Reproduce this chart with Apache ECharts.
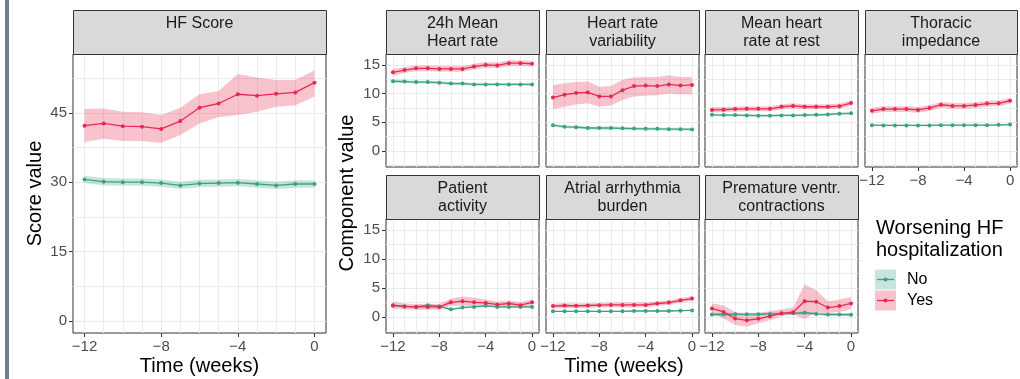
<!DOCTYPE html>
<html><head><meta charset="utf-8">
<script src="https://cdn.jsdelivr.net/npm/echarts@6/dist/echarts.min.js"></script>
<style>html,body{margin:0;padding:0;background:#fff;}#c{width:1020px;height:379px;}</style>
</head><body><div id="c"></div>
<script>
// ---------------- DATA ----------------
const weeks = [-12,-11,-10,-9,-8,-7,-6,-5,-4,-3,-2,-1,0];
const xTickLabels = [-12,-8,-4,0];
const hfTicks = [0,15,30,45];
const compTicks = [0,5,10,15];
const groups = ['No','Yes'];

// HF Score
const hfNo    = [30.6,30.1,30.0,30.0,29.8,29.3,29.7,29.8,29.9,29.6,29.3,29.6,29.6];
const hfNoLo  = [29.8,29.3,29.2,29.2,29.0,28.5,28.9,29.0,29.1,28.8,28.5,28.8,28.8];
const hfNoHi  = [31.4,30.9,30.8,30.8,30.6,30.1,30.5,30.6,30.7,30.4,30.1,30.4,30.4];
const hfYes   = [42.2,42.7,42.1,42.0,41.5,43.2,46.1,47.0,49.0,48.7,49.1,49.4,51.5];
const hfYesLo = [38.7,39.4,38.9,38.9,38.5,40.2,42.7,44.1,44.5,45.2,46.3,46.6,48.5];
const hfYesHi = [45.8,45.9,45.2,45.1,44.5,46.1,49.0,49.7,53.4,52.6,52.1,52.1,54.2];

// 24h Mean Heart rate
const mhrNo    = [12.15,12.1,12.0,12.0,11.9,11.75,11.75,11.6,11.6,11.6,11.6,11.6,11.6];
const mhrNoLo  = [11.9,11.85,11.75,11.75,11.65,11.5,11.5,11.35,11.35,11.35,11.35,11.35,11.35];
const mhrNoHi  = [12.4,12.35,12.25,12.25,12.15,12.0,12.0,11.85,11.85,11.85,11.85,11.85,11.85];
const mhrYes   = [13.7,14.1,14.4,14.4,14.3,14.3,14.3,14.7,15.0,14.9,15.3,15.3,15.2];
const mhrYesLo = [13.1,13.6,13.9,13.9,13.8,13.8,13.8,14.2,14.5,14.4,14.8,14.8,14.7];
const mhrYesHi = [14.3,14.6,14.9,14.9,14.8,14.8,14.8,15.2,15.5,15.4,15.8,15.8,15.7];

// Heart rate variability
const hrvNo    = [4.5,4.2,4.15,4.0,4.0,4.0,3.95,3.9,3.85,3.85,3.8,3.8,3.75];
const hrvNoLo  = [4.25,3.95,3.9,3.75,3.75,3.75,3.7,3.65,3.6,3.6,3.55,3.55,3.5];
const hrvNoHi  = [4.75,4.45,4.4,4.25,4.25,4.25,4.2,4.15,4.1,4.1,4.05,4.05,4.0];
const hrvYes   = [9.3,9.8,10.1,10.2,9.5,9.5,10.6,11.3,11.4,11.3,11.6,11.4,11.5];
const hrvYesLo = [7.3,7.7,8.1,8.3,7.7,7.9,8.9,9.5,9.6,9.7,10.0,9.9,9.9];
const hrvYesHi = [11.5,11.8,12.0,12.1,11.2,11.3,12.4,12.8,12.9,12.9,13.2,12.9,12.9];

// Mean heart rate at rest
const rhrNo    = [6.3,6.25,6.25,6.2,6.15,6.15,6.2,6.2,6.25,6.3,6.35,6.5,6.55];
const rhrNoLo  = [6.1,6.05,6.05,6.0,5.95,5.95,6.0,6.0,6.05,6.1,6.15,6.3,6.35];
const rhrNoHi  = [6.5,6.45,6.45,6.4,6.35,6.35,6.4,6.4,6.45,6.5,6.55,6.7,6.75];
const rhrYes   = [7.15,7.2,7.3,7.35,7.35,7.35,7.7,7.85,7.7,7.7,7.7,7.8,8.35];
const rhrYesLo = [6.7,6.75,6.85,6.9,6.9,6.9,7.25,7.4,7.25,7.25,7.25,7.35,7.9];
const rhrYesHi = [7.6,7.65,7.75,7.8,7.8,7.8,8.15,8.3,8.15,8.15,8.15,8.25,8.8];

// Thoracic impedance
const thiNo    = [4.5,4.45,4.45,4.45,4.45,4.45,4.5,4.5,4.5,4.5,4.5,4.55,4.6];
const thiNoLo  = [4.35,4.3,4.3,4.3,4.3,4.3,4.35,4.35,4.35,4.35,4.35,4.4,4.45];
const thiNoHi  = [4.65,4.6,4.6,4.6,4.6,4.6,4.65,4.65,4.65,4.65,4.65,4.7,4.75];
const thiYes   = [7.0,7.3,7.3,7.3,7.15,7.5,8.05,7.85,7.85,8.0,8.25,8.3,8.75];
const thiYesLo = [6.5,6.8,6.8,6.8,6.65,7.0,7.55,7.35,7.35,7.5,7.75,7.8,8.25];
const thiYesHi = [7.5,7.8,7.8,7.8,7.65,8.0,8.55,8.35,8.35,8.5,8.75,8.8,9.25];

// Patient activity
const actNo    = [1.9,1.8,1.7,2.0,1.8,1.3,1.6,1.7,1.9,1.7,1.7,1.7,1.7];
const actNoLo  = [1.75,1.65,1.55,1.85,1.65,1.15,1.45,1.55,1.75,1.55,1.55,1.55,1.55];
const actNoHi  = [2.05,1.95,1.85,2.15,1.95,1.45,1.75,1.85,2.05,1.85,1.85,1.85,1.85];
const actYes   = [2.0,1.8,1.7,1.7,1.7,2.5,2.7,2.5,2.4,2.1,2.3,2.0,2.5];
const actYesLo = [1.4,1.3,1.2,1.2,1.2,1.9,1.9,1.8,1.8,1.6,1.8,1.5,2.0];
const actYesHi = [2.6,2.3,2.2,2.2,2.2,3.1,3.5,3.3,3.0,2.6,2.8,2.5,3.0];

// Atrial arrhythmia burden
const aabNo    = [0.95,0.95,0.95,0.95,0.95,0.95,0.95,1.0,1.0,1.0,1.0,1.05,1.1];
const aabNoLo  = [0.85,0.85,0.85,0.85,0.85,0.85,0.85,0.9,0.9,0.9,0.9,0.95,1.0];
const aabNoHi  = [1.05,1.05,1.05,1.05,1.05,1.05,1.05,1.1,1.1,1.1,1.1,1.15,1.2];
const aabYes   = [1.85,1.95,1.9,1.95,2.0,2.05,2.05,2.05,2.05,2.3,2.45,2.85,3.15];
const aabYesLo = [1.45,1.55,1.5,1.55,1.6,1.65,1.65,1.65,1.65,1.9,2.05,2.45,2.75];
const aabYesHi = [2.25,2.35,2.3,2.35,2.4,2.45,2.45,2.45,2.45,2.7,2.85,3.25,3.55];

// Premature ventricular contractions
const pvcNo    = [0.4,0.4,0.45,0.45,0.45,0.5,0.55,0.6,0.7,0.5,0.4,0.4,0.35];
const pvcNoLo  = [0.15,0.15,0.2,0.2,0.2,0.25,0.3,0.35,0.45,0.25,0.15,0.15,0.1];
const pvcNoHi  = [0.65,0.65,0.7,0.7,0.7,0.75,0.8,0.85,0.95,0.75,0.65,0.65,0.6];
const pvcYes   = [1.45,0.85,-0.3,-0.6,-0.35,0.1,0.6,0.8,2.7,2.6,1.6,1.85,2.3];
const pvcYesLo = [0.6,-0.3,-1.4,-1.7,-1.1,-0.6,0.1,0.35,-0.4,0.75,0.7,0.8,1.3];
const pvcYesHi = [2.3,2.0,0.85,0.35,0.6,1.0,1.3,1.6,5.6,4.6,2.7,3.0,3.4];

// ---------------- STYLE / LAYOUT ----------------
const FONT = '"Liberation Sans", Arial, Helvetica, sans-serif';
const COL = {No:'#3aa386', Yes:'#e8294f'};
const FILL = {No:'rgba(58,163,134,0.28)', Yes:'rgba(232,41,79,0.28)'};
const GRIDC = '#ebebeb', BORDER = '#333333', TICKC = '#4d4d4d';

const panels = [
  {title:['HF Score'], left:73, top:54, width:253, height:279, ymin:-2.6, ymax:57.7, yint:15, ticks:hfTicks, showY:true, showX:true,
    No:[hfNo,hfNoLo,hfNoHi], Yes:[hfYes,hfYesLo,hfYesHi]},
  {title:['24h Mean','Heart rate'], left:386, top:54, width:153, height:113, showY:true, showX:false,
    No:[mhrNo,mhrNoLo,mhrNoHi], Yes:[mhrYes,mhrYesLo,mhrYesHi]},
  {title:['Heart rate','variability'], left:546, top:54, width:153, height:113, showY:false, showX:false,
    No:[hrvNo,hrvNoLo,hrvNoHi], Yes:[hrvYes,hrvYesLo,hrvYesHi]},
  {title:['Mean heart','rate at rest'], left:705, top:54, width:153, height:113, showY:false, showX:false,
    No:[rhrNo,rhrNoLo,rhrNoHi], Yes:[rhrYes,rhrYesLo,rhrYesHi]},
  {title:['Thoracic','impedance'], left:865, top:54, width:152, height:113, showY:false, showX:true,
    No:[thiNo,thiNoLo,thiNoHi], Yes:[thiYes,thiYesLo,thiYesHi]},
  {title:['Patient','activity'], left:386, top:219, width:153, height:114, showY:true, showX:true,
    No:[actNo,actNoLo,actNoHi], Yes:[actYes,actYesLo,actYesHi]},
  {title:['Atrial arrhythmia','burden'], left:546, top:219, width:153, height:114, showY:false, showX:true,
    No:[aabNo,aabNoLo,aabNoHi], Yes:[aabYes,aabYesLo,aabYesHi]},
  {title:['Premature ventr.','contractions'], left:705, top:219, width:153, height:114, showY:false, showX:true,
    No:[pvcNo,pvcNoLo,pvcNoHi], Yes:[pvcYes,pvcYesLo,pvcYesHi]}
];
panels.forEach(p => { if (p.ymin === undefined) { p.ymin = -2.8; p.ymax = 16.9; p.yint = 5; p.ticks = compTicks; } });

const fmt = v => (v < 0 ? '\u2212' + Math.abs(v) : String(v));

const grid = [], xAxis = [], yAxis = [], series = [], graphic = [];

panels.forEach((p, i) => {
  grid.push({left:p.left, top:p.top, width:p.width, height:p.height, show:true,
    borderColor:BORDER, borderWidth:1, backgroundColor:'#fff', containLabel:false});
  xAxis.push({type:'value', gridIndex:i, position:'bottom', min:-12.6, max:0.6, minInterval:4, maxInterval:4, splitNumber:3,
    axisLine:{show:false, onZero:false},
    axisTick:{show:p.showX, length:4, lineStyle:{color:BORDER, width:1}, customValues:xTickLabels},
    axisLabel:{show:p.showX, customValues:xTickLabels, margin:6, color:TICKC, fontSize:15, fontFamily:FONT,
      formatter: v => (xTickLabels.indexOf(v) >= 0 ? fmt(v) : '')},
    splitLine:{show:true, lineStyle:{color:GRIDC, width:1}},
    minorTick:{show:false, splitNumber:4},
    minorSplitLine:{show:true, lineStyle:{color:GRIDC, width:1}}
  });
  yAxis.push({type:'value', gridIndex:i, position:'left', min:p.ymin, max:p.ymax, minInterval:p.yint, maxInterval:p.yint, splitNumber:4,
    axisLine:{show:false, onZero:false},
    axisTick:{show:p.showY, length:4, lineStyle:{color:BORDER, width:1}, customValues:p.ticks},
    axisLabel:{show:p.showY, customValues:p.ticks, margin:6, color:TICKC, fontSize:15, fontFamily:FONT,
      formatter: v => (p.ticks.indexOf(v) >= 0 ? fmt(v) : '')},
    splitLine:{show:true, lineStyle:{color:GRIDC, width:1}},
    minorTick:{show:false, splitNumber:2},
    minorSplitLine:{show:true, lineStyle:{color:GRIDC, width:1}}
  });
  groups.forEach(g => {
    const [mean, lo, hi] = p[g];
    series.push({
      type:'custom', xAxisIndex:i, yAxisIndex:i, silent:true, z:1,
      data: weeks.map((w, k) => [w, lo[k], hi[k]]),
      encode:{x:0, y:[1,2]},
      renderItem: (params, api) => {
        if (params.dataIndex !== 0) return null;
        const pts = [];
        for (let k = 0; k < weeks.length; k++) pts.push(api.coord([weeks[k], hi[k]]));
        for (let k = weeks.length - 1; k >= 0; k--) pts.push(api.coord([weeks[k], lo[k]]));
        return {type:'polygon', shape:{points:pts}, style:{fill:FILL[g], stroke:null, lineWidth:0}};
      }
    });
  });
  groups.forEach(g => {
    const mean = p[g][0];
    series.push({
      type:'line', xAxisIndex:i, yAxisIndex:i, silent:true, z:3,
      data: weeks.map((w, k) => [w, mean[k]]),
      symbol:'circle', symbolSize:4, showSymbol:true,
      lineStyle:{color:COL[g], width:1.3}, itemStyle:{color:COL[g]}
    });
  });
  // strip
  const sh = 44;
  graphic.push({type:'rect', shape:{x:p.left + 0.5, y:p.top - sh + 0.5, width:p.width, height:sh},
    style:{fill:'#d9d9d9', stroke:BORDER, lineWidth:1}, z:10});
  const offs = p.title.length === 1 ? [14] : [13.5, 31.5];
  p.title.forEach((t, k) => graphic.push({type:'text', z:11,
    style:{text:t, x:p.left + p.width / 2, y:p.top - sh + offs[k], align:'center', verticalAlign:'middle',
      font:'16px ' + FONT, fill:'#1a1a1a'}}));
});

// side bar
graphic.push({type:'rect', shape:{x:5, y:0, width:4, height:379}, style:{fill:'#6c8087'}, z:10});
// axis titles
const titleFont = '20px ' + FONT;
graphic.push({type:'text', z:11, style:{text:'Time (weeks)', x:199.5, y:366, align:'center', verticalAlign:'middle', font:titleFont, fill:'#000'}});
graphic.push({type:'text', z:11, style:{text:'Time (weeks)', x:624, y:366, align:'center', verticalAlign:'middle', font:titleFont, fill:'#000'}});
graphic.push({type:'text', z:11, x:35, y:193.5, rotation:Math.PI / 2,
  style:{text:'Score value', x:0, y:0, align:'center', verticalAlign:'middle', font:titleFont, fill:'#000'}});
graphic.push({type:'text', z:11, x:347, y:193, rotation:Math.PI / 2,
  style:{text:'Component value', x:0, y:0, align:'center', verticalAlign:'middle', font:titleFont, fill:'#000'}});
// legend
graphic.push({type:'text', z:11, style:{text:'Worsening HF', x:876, y:228, align:'left', verticalAlign:'middle', font:titleFont, fill:'#000'}});
graphic.push({type:'text', z:11, style:{text:'hospitalization', x:876, y:250, align:'left', verticalAlign:'middle', font:titleFont, fill:'#000'}});
groups.forEach((g, k) => {
  const cy = 279.5 + k * 21;
  graphic.push({type:'rect', z:10, shape:{x:875, y:cy - 10, width:21, height:20}, style:{fill:FILL[g]}});
  graphic.push({type:'line', z:11, shape:{x1:877, y1:cy, x2:894, y2:cy}, style:{stroke:COL[g], lineWidth:1.3}});
  graphic.push({type:'circle', z:11, shape:{cx:885.5, cy:cy, r:2}, style:{fill:COL[g]}});
  graphic.push({type:'text', z:11, style:{text:g, x:907, y:cy, align:'left', verticalAlign:'middle', font:'16px ' + FONT, fill:'#000'}});
});

const chart = echarts.init(document.getElementById('c'), null, {renderer:'canvas'});
chart.setOption({animation:false, backgroundColor:'#fff', grid, xAxis, yAxis, series, graphic});
</script>
</body></html>
